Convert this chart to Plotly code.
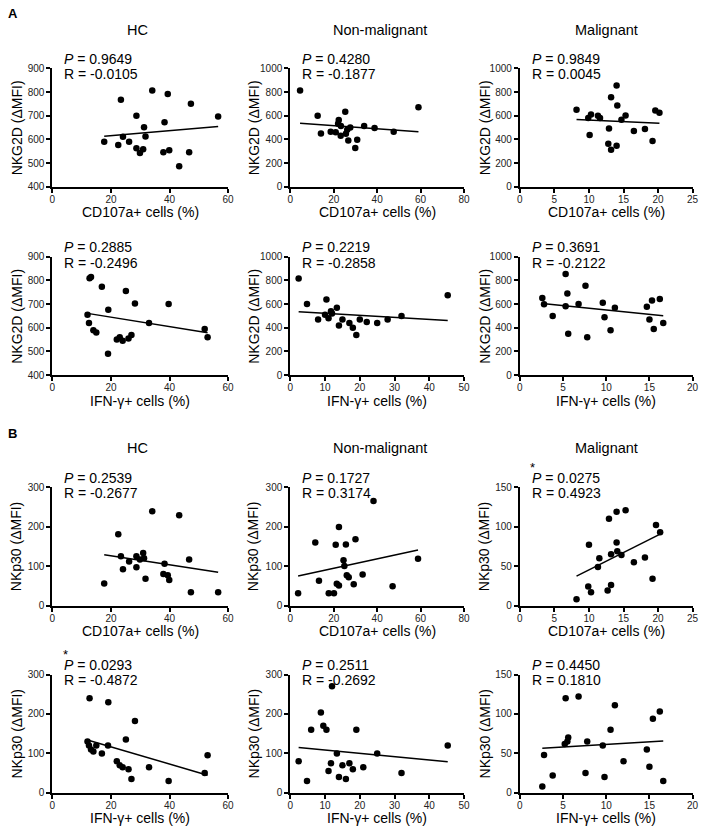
import numpy as np
import plotly.graph_objects as go

W, H = 708, 833

# ---------------- data ----------------
groups = ["HC", "Non-malignant", "Malignant"]

# A: NKG2D vs CD107a
a_hc_cd107a = [17.7, 22.5, 23.4, 24.1, 26.2, 28.7, 28.7, 29.9, 31.0, 31.3, 31.8, 34.1, 37.9, 38.3, 39.4, 39.9, 43.3, 46.7, 47.3, 56.6]
a_hc_nkg2d = [590, 576, 767, 611, 590, 700, 562, 542, 558, 651, 612, 807, 546, 672, 792, 554, 486, 546, 751, 697]

a_nm_cd107a = [4.5, 12.6, 14.1, 18.6, 20.9, 22.3, 22.0, 23.2, 23.3, 25.3, 25.6, 26.2, 26.7, 27.6, 29.9, 30.8, 34.0, 38.8, 47.6, 59.0]
a_nm_nkg2d = [813, 599, 450, 464, 459, 563, 532, 430, 512, 633, 447, 481, 391, 500, 326, 397, 512, 495, 464, 672]

a_m_cd107a = [8.2, 9.9, 10.3, 10.1, 11.3, 11.6, 12.9, 12.8, 13.2, 13.2, 14.0, 14.1, 14.0, 14.7, 15.3, 16.5, 18.1, 19.2, 19.6, 20.2]
a_m_nkg2d = [650, 580, 610, 436, 599, 580, 492, 363, 757, 312, 855, 686, 346, 565, 602, 470, 487, 386, 644, 625]

# A: NKG2D vs IFN-g
a_hc_ifng = [12.0, 12.5, 12.7, 13.2, 14.0, 15.0, 16.9, 19.1, 19.0, 22.0, 23.0, 24.0, 25.1, 26.0, 27.0, 28.2, 33.0, 39.7, 52.0, 53.0]
a_hc_nkg2d_i = [655, 620, 809, 815, 590, 580, 773, 676, 490, 550, 560, 545, 756, 555, 570, 703, 620, 701, 595, 560]

a_nm_ifng = [2.4, 4.8, 8.0, 10.0, 10.4, 11.0, 11.7, 12.0, 13.4, 14.0, 15.0, 17.0, 18.0, 19.0, 20.0, 22.0, 25.0, 28.0, 32.0, 45.3]
a_nm_nkg2d_i = [816, 602, 470, 510, 639, 480, 539, 520, 569, 420, 470, 440, 400, 340, 470, 450, 440, 470, 500, 675]

a_m_ifng = [2.6, 2.8, 3.8, 5.3, 5.5, 5.3, 5.6, 6.8, 7.6, 7.8, 9.6, 9.8, 10.5, 11.0, 14.7, 15.0, 15.3, 15.5, 16.2, 16.6]
a_m_nkg2d_i = [652, 600, 500, 855, 689, 583, 350, 602, 755, 320, 611, 490, 380, 569, 577, 470, 631, 390, 644, 440]

# B: NKp30 vs CD107a
b_hc_cd107a = [17.7, 22.5, 23.4, 24.1, 26.2, 28.7, 28.7, 29.9, 31.0, 31.3, 31.8, 34.1, 37.9, 38.3, 39.4, 39.9, 43.3, 46.7, 47.3, 56.6]
b_hc_nkp30 = [56, 181, 125, 92, 112, 125, 97, 117, 133, 120, 68, 239, 80, 106, 77, 65, 229, 117, 34, 34]

b_nm_cd107a = [3.6, 11.5, 13.2, 17.7, 20.1, 20.9, 21.4, 22.4, 22.4, 24.5, 24.9, 25.6, 26.0, 26.9, 29.2, 30.0, 33.3, 38.3, 47.1, 58.8]
b_nm_nkp30 = [31, 160, 63, 31, 31, 154, 55, 199, 51, 115, 100, 155, 77, 72, 54, 168, 79, 265, 49, 119]

b_m_cd107a = [8.2, 9.9, 10.0, 10.3, 11.3, 11.5, 12.7, 12.9, 13.2, 13.2, 14.0, 14.0, 14.1, 14.7, 15.3, 16.5, 18.1, 19.2, 19.7, 20.3]
b_m_nkp30 = [8, 24, 77, 17, 49, 60, 19, 110, 65, 26, 119, 80, 69, 64, 121, 55, 61, 34, 102, 93]

# B: NKp30 vs IFN-g
b_hc_ifng = [12.0, 12.5, 12.7, 13.2, 14.0, 15.0, 16.9, 19.1, 19.0, 22.0, 23.0, 24.0, 25.1, 26.0, 27.0, 28.2, 33.0, 39.7, 52.0, 53.0]
b_hc_nkp30_i = [130, 120, 240, 110, 105, 120, 100, 230, 120, 80, 70, 65, 135, 60, 35, 182, 65, 30, 50, 95]

b_nm_ifng = [2.4, 4.8, 6.0, 8.8, 9.5, 10.4, 11.0, 11.7, 12.0, 13.4, 14.0, 15.0, 16.0, 17.0, 18.0, 19.0, 21.0, 25.0, 32.0, 45.3]
b_nm_nkp30_i = [80, 30, 160, 204, 170, 160, 55, 75, 270, 100, 40, 70, 35, 75, 60, 160, 65, 100, 50, 120]

b_m_ifng = [2.6, 2.8, 3.8, 5.2, 5.3, 5.5, 5.6, 6.8, 7.6, 7.8, 9.6, 9.8, 10.5, 11.0, 12.0, 14.7, 15.0, 15.4, 16.2, 16.6]
b_m_nkp30_i = [8, 48, 22, 62, 120, 65, 70, 122, 25, 65, 60, 20, 80, 111, 40, 55, 33, 94, 103, 15]

p_values = ["0.9649", "0.4280", "0.9849", "0.2885", "0.2219", "0.3691",
            "0.2539", "0.1727", "0.0275", "0.0293", "0.2511", "0.4450"]
r_values = ["-0.0105", "-0.1877", "0.0045", "-0.2496", "-0.2858", "-0.2122",
            "-0.2677", "0.3174", "0.4923", "-0.4872", "-0.2692", "0.1810"]
significant = [False, False, False, False, False, False,
               False, False, True, True, False, False]

x_titles = ["CD107a+ cells (%)", "IFN-γ+ cells (%)"]
y_titles = ["NKG2D (ΔMFI)", "NKp30 (ΔMFI)"]

series = [
    (a_hc_cd107a, a_hc_nkg2d), (a_nm_cd107a, a_nm_nkg2d), (a_m_cd107a, a_m_nkg2d),
    (a_hc_ifng, a_hc_nkg2d_i), (a_nm_ifng, a_nm_nkg2d_i), (a_m_ifng, a_m_nkg2d_i),
    (b_hc_cd107a, b_hc_nkp30), (b_nm_cd107a, b_nm_nkp30), (b_m_cd107a, b_m_nkp30),
    (b_hc_ifng, b_hc_nkp30_i), (b_nm_ifng, b_nm_nkp30_i), (b_m_ifng, b_m_nkp30_i),
]

# axis ranges / tick steps per panel
x_ranges = [(0, 60, 20), (0, 80, 20), (0, 25, 5),
            (0, 60, 20), (0, 50, 10), (0, 20, 5),
            (0, 60, 20), (0, 80, 20), (0, 25, 5),
            (0, 60, 20), (0, 50, 10), (0, 20, 5)]
y_ranges = [(400, 900, 100), (0, 1000, 200), (0, 1000, 200),
            (400, 900, 100), (0, 1000, 200), (0, 1000, 200),
            (0, 300, 100), (0, 300, 100), (0, 150, 50),
            (0, 300, 100), (0, 300, 100), (0, 150, 50)]

# ---------------- layout geometry (pixels) ----------------
col_px = [(50, 228), (291, 467), (523.5, 698.5)]
row_px = [(63.3, 183.3), (254.5, 374.5), (488.3, 608.3), (678.3, 798.3)]

FONT = "Liberation Sans, Arial, sans-serif"


def px_x(v):
    return v / W


def px_y(v):
    return 1 - v / H


fig = go.Figure()
annotations = []
layout = {}

for i, (xs, ys) in enumerate(series):
    r, c = divmod(i, 3)
    n = i + 1
    xa = "x" if n == 1 else f"x{n}"
    ya = "y" if n == 1 else f"y{n}"
    fig.add_trace(go.Scatter(x=xs, y=ys, mode="markers", xaxis=xa, yaxis=ya,
                             marker=dict(color="black", size=6.5), showlegend=False,
                             cliponaxis=False))
    xarr = np.array(xs, dtype=float)
    yarr = np.array(ys, dtype=float)
    slope, icpt = np.polyfit(xarr, yarr, 1)
    lx = np.array([xarr.min(), xarr.max()])
    fig.add_trace(go.Scatter(x=lx, y=slope * lx + icpt, mode="lines", xaxis=xa, yaxis=ya,
                             line=dict(color="black", width=1.5), showlegend=False))

    x0, x1 = col_px[c]
    y0, y1 = row_px[r]
    xr = x_ranges[i]
    yr = y_ranges[i]
    axis_common = dict(showline=True, linecolor="black", linewidth=2, ticks="outside",
                       ticklen=4, tickwidth=1.5, tickcolor="black", showgrid=False,
                       zeroline=False, tickfont=dict(family=FONT, size=10, color="#222"))
    layout[f"xaxis{n}"] = dict(domain=[px_x(x0), px_x(x1)], anchor=ya,
                               range=[xr[0], xr[1]], dtick=xr[2], tick0=0,
                               ticklabelstandoff=-2, **axis_common)
    layout[f"yaxis{n}"] = dict(domain=[px_y(y1), px_y(y0)], anchor=xa,
                               range=[yr[0], yr[1]], dtick=yr[2], tick0=0, **axis_common)

    # P / R text
    tx = x0 + 10
    annotations.append(dict(x=px_x(tx), y=px_y(y0 - 9.5), xref="paper", yref="paper",
                            xanchor="left", yanchor="middle", showarrow=False,
                            text=f"<i>P</i> = {p_values[i]}",
                            font=dict(family=FONT, size=14, color="black")))
    annotations.append(dict(x=px_x(tx), y=px_y(y0 + 6), xref="paper", yref="paper",
                            xanchor="left", yanchor="middle", showarrow=False,
                            text=f"R = {r_values[i]}",
                            font=dict(family=FONT, size=14, color="black")))
    if significant[i]:
        annotations.append(dict(x=px_x(tx + 3), y=px_y(y0 - 20.5), xref="paper", yref="paper",
                                xanchor="center", yanchor="middle", showarrow=False,
                                text="*", font=dict(family=FONT, size=13, color="black")))

    # x title
    block = r // 2
    annotations.append(dict(x=px_x((x0 + x1) / 2), y=px_y(y1 + 26), xref="paper", yref="paper",
                            xanchor="center", yanchor="middle", showarrow=False,
                            text=x_titles[r % 2],
                            font=dict(family=FONT, size=14, color="black")))
    # y title
    yt_x = [14, 254, 488][c]
    annotations.append(dict(x=px_x(yt_x), y=px_y((y0 + y1) / 2), xref="paper", yref="paper",
                            xanchor="center", yanchor="middle", showarrow=False, textangle=-90,
                            text=y_titles[block],
                            font=dict(family=FONT, size=14, color="black")))

# column titles
title_x = [136, 382, 611]
for b, ty in enumerate([24, 448.3]):
    for c, g in enumerate(groups):
        annotations.append(dict(x=px_x(title_x[c]), y=px_y(ty), xref="paper", yref="paper",
                                xanchor="center", yanchor="middle", showarrow=False, text=g,
                                font=dict(family=FONT, size=14.5, color="black")))

# panel letters
for lbl, ly in [("A", 8), ("B", 434)]:
    annotations.append(dict(x=px_x(3), y=px_y(ly), xref="paper", yref="paper",
                            xanchor="left", yanchor="middle", showarrow=False,
                            text=f"<b>{lbl}</b>", font=dict(family=FONT, size=13, color="black")))

fig.update_layout(width=W, height=H, margin=dict(l=0, r=0, t=0, b=0),
                  plot_bgcolor="white", paper_bgcolor="white",
                  annotations=annotations, **layout)

fig.write_html("out.html", config={"displayModeBar": False},
               post_script="document.body.style.margin='0px';document.body.style.padding='0px';")
